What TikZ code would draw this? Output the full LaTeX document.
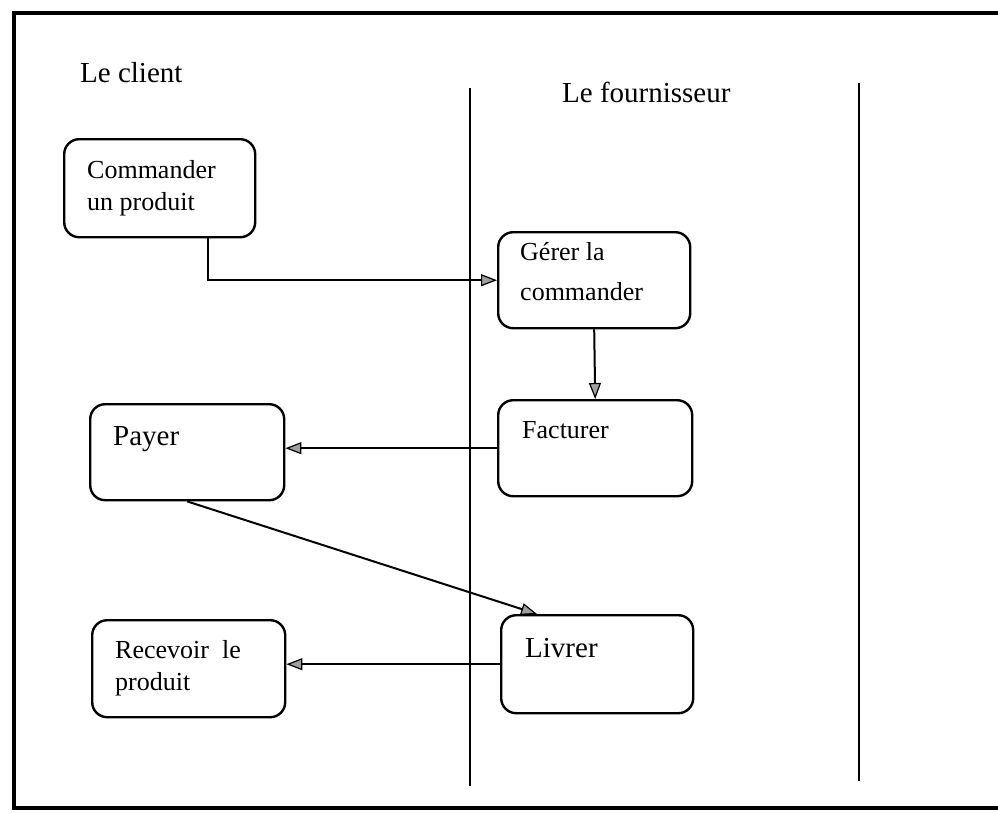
\documentclass[tikz,border=0pt]{standalone}
\usepackage{fontspec}
\setmainfont{Liberation Serif}
\usetikzlibrary{arrows.meta,calc}
\begin{document}
\begin{tikzpicture}[x=1pt,y=-1pt,
  act/.style={draw,line width=2.4pt,rounded corners=15pt,anchor=north west,
    minimum width=192pt,minimum height=97pt,inner sep=0pt},
  txt/.style={anchor=base west,inner sep=0pt,align=left,
    font=\fontsize{26}{32}\selectfont},
  bigtxt/.style={anchor=base west,inner sep=0pt,font=\fontsize{29}{34}\selectfont},
  lane/.style={line width=2.4pt},
  flow/.style={line width=2pt,-{Triangle[length=16pt,width=12pt,fill=gray!75,line width=1.2pt]}}]
\useasboundingbox (0,0) rectangle (998,812);

% outer frame (open on the right)
\draw[line width=3.5pt] (1005,13) -- (14,13) -- (14,808) -- (1005,808);

% swimlane separators
\draw[lane] (470,88) -- (470,786);
\draw[lane] (859,83) -- (859,781);

% lane titles
\node[bigtxt] (client) at (80,82) {Le client};
\node[bigtxt] (fourn) at (562,102) {Le fournisseur};

% activities
\node[act,minimum width=191pt,minimum height=98pt] (cmd) at (63,138) {};
\node[txt] (cmdT) at (87,178) {Commander};
\node[txt] (cmdU) at (87,210) {un produit};

\node[act,minimum height=96pt] (ger) at (497,231) {};
\node[txt] (gerT) at (520,260) {Gérer la};
\node[txt] (gerU) at (520,300) {commander};

\node[act,minimum width=194pt,minimum height=96pt] (fac) at (497,399) {};
\node[txt] (facT) at (522,438) {Facturer};

\node[act,minimum width=194pt,minimum height=96pt] (pay) at (89,403) {};
\node[bigtxt] (payT) at (113,445) {Payer};

\node[act,minimum width=192pt,minimum height=98pt] (liv) at (500,614) {};
\node[bigtxt] (livT) at (525,657) {Livrer};

\node[act,minimum width=193pt,minimum height=97pt] (rec) at (91,619) {};
\node[txt] (recT) at (115,658) {Recevoir\ \ le};
\node[txt] (recU) at (115,690) {produit};

% control flow
\coordinate (cmdOut) at ($(cmd.south west)!0.75!(cmd.south east)$);
\coordinate (livIn) at ($(liv.north west)+(37,0)$);
\draw[flow] (cmdOut) |- (ger.west);
\draw[flow] (ger.south) -- (fac.north);
\draw[flow] (fac.west) -- (fac.west -| pay.east);
\draw[flow] (pay.south) -- (livIn);
\draw[flow] (liv.west) -- (liv.west -| rec.east);
\end{tikzpicture}
\end{document}
